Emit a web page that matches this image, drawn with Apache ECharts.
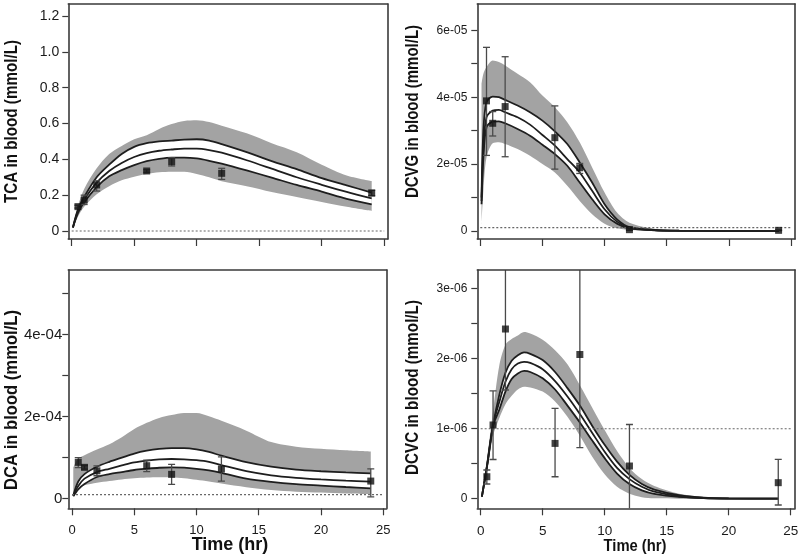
<!DOCTYPE html>
<html>
<head>
<meta charset="utf-8">
<script src="https://cdn.jsdelivr.net/npm/echarts@6/dist/echarts.min.js"></script>
<style>
html,body{margin:0;padding:0;background:#fff;}
#chart{width:800px;height:558px;}
</style>
</head>
<body>
<div id="chart"></div>
<script>
// ---------- DATA ----------
const obsTimes = [0.5, 1, 2, 6, 8, 12, 24];
const xTicks = [0, 5, 10, 15, 20, 25];

// TCA (mmol/L)
const tcaT = [0.1, 0.5, 1, 2, 3, 4, 5, 6, 7, 8, 9, 10, 11, 12, 14, 16, 18, 20, 22, 24];
const tcaUpper = [0.02, 0.12, 0.19, 0.30, 0.37, 0.43, 0.47, 0.49, 0.50, 0.505, 0.51, 0.512, 0.505, 0.485, 0.44, 0.39, 0.345, 0.295, 0.255, 0.214];
const tcaMid = [0.02, 0.11, 0.175, 0.27, 0.335, 0.38, 0.413, 0.435, 0.448, 0.455, 0.46, 0.46, 0.452, 0.437, 0.395, 0.348, 0.30, 0.258, 0.218, 0.182];
const tcaLow = [0.02, 0.10, 0.16, 0.245, 0.305, 0.34, 0.368, 0.39, 0.403, 0.41, 0.41, 0.405, 0.392, 0.376, 0.338, 0.298, 0.257, 0.22, 0.18, 0.149];
const tcaBandHi = [0.025, 0.14, 0.235, 0.35, 0.43, 0.475, 0.512, 0.535, 0.57, 0.597, 0.614, 0.618, 0.608, 0.588, 0.545, 0.49, 0.44, 0.37, 0.31, 0.279];
const tcaBandLo = [0.015, 0.08, 0.135, 0.205, 0.25, 0.283, 0.303, 0.318, 0.328, 0.331, 0.331, 0.318, 0.30, 0.278, 0.25, 0.218, 0.19, 0.162, 0.135, 0.112];
const tcaObs = [0.136, 0.173, 0.257, 0.335, 0.387, 0.322, 0.212];
const tcaObsLo = [0.128, 0.148, 0.223, 0.328, 0.363, 0.288, 0.197];
const tcaObsHi = [0.144, 0.200, 0.280, 0.342, 0.409, 0.350, 0.227];
const tcaRef = 0;
const tcaYTicks = [0, 0.2, 0.4, 0.6, 0.8, 1.0, 1.2];
const tcaYLabels = [0, 0.2, 0.4, 0.6, 0.8, 1.0, 1.2];

// DCVG (mmol/L)
const dcvgT = [0.1, 0.25, 0.5, 1, 1.5, 2, 3, 4, 5, 6, 7, 8, 9, 10, 11, 12, 14, 16, 20, 24];
const dcvgUpper = [10e-6, 30e-6, 38.5e-6, 40.2e-6, 40e-6, 39.2e-6, 37.5e-6, 35.5e-6, 33e-6, 29.8e-6, 26e-6, 20.5e-6, 14.5e-6, 8e-6, 3.5e-6, 1.2e-6, 0.3e-6, 0.1e-6, 0, 0];
const dcvgMid = [9e-6, 25e-6, 34e-6, 36e-6, 36.2e-6, 35.5e-6, 34e-6, 31.8e-6, 28.7e-6, 25.5e-6, 21.5e-6, 17.5e-6, 12e-6, 6.5e-6, 2.8e-6, 1e-6, 0.25e-6, 0.08e-6, 0, 0];
const dcvgLow = [8e-6, 22e-6, 31e-6, 32.7e-6, 32.8e-6, 32.2e-6, 30.5e-6, 28.5e-6, 25.8e-6, 23e-6, 19.5e-6, 14.5e-6, 9.5e-6, 5e-6, 2.2e-6, 0.8e-6, 0.2e-6, 0.05e-6, 0, 0];
const dcvgBandHi = [44e-6, 47e-6, 49e-6, 51e-6, 50.5e-6, 49.5e-6, 47e-6, 44.5e-6, 40.5e-6, 37e-6, 32.5e-6, 26.5e-6, 19e-6, 11.5e-6, 5.5e-6, 2.5e-6, 0.7e-6, 0.25e-6, 0.03e-6, 0];
const dcvgBandLo = [2e-6, 12e-6, 22e-6, 26.2e-6, 26.5e-6, 26e-6, 24.5e-6, 22.5e-6, 20e-6, 17.5e-6, 13.5e-6, 9e-6, 5e-6, 2.2e-6, 0.8e-6, 0.3e-6, 0.05e-6, 0, 0, 0];
const dcvgObs = [38.9e-6, 32.2e-6, 37.2e-6, 27.9e-6, 18.9e-6, 0.4e-6, 0.2e-6];
const dcvgObsLo = [22.6e-6, 28.4e-6, 22.2e-6, 18.5e-6, 17.2e-6, 0.2e-6, 0.1e-6];
const dcvgObsHi = [54.9e-6, 35.7e-6, 52.1e-6, 37.4e-6, 20.2e-6, 0.6e-6, 0.3e-6];
const dcvgRef = 1e-6;
const dcvgYTicks = [0, 1e-5, 2e-5, 3e-5, 4e-5, 5e-5, 6e-5];
const dcvgYLabels = [0, 2e-5, 4e-5, 6e-5];

// DCA (mmol/L)
const dcaT = [0.1, 0.5, 1, 2, 3, 4, 5, 6, 7, 8, 9, 10, 11, 12, 14, 16, 18, 20, 22, 24];
const dcaUpper = [8e-6, 42e-6, 60e-6, 78e-6, 90e-6, 100e-6, 110e-6, 117e-6, 121.5e-6, 123.6e-6, 123.6e-6, 120.5e-6, 114e-6, 105e-6, 89e-6, 78e-6, 71e-6, 67e-6, 64e-6, 62e-6];
const dcaMid = [7e-6, 31e-6, 49e-6, 65e-6, 73e-6, 81e-6, 88.5e-6, 93e-6, 96e-6, 96.8e-6, 96e-6, 94e-6, 90e-6, 82e-6, 67e-6, 57e-6, 51e-6, 47e-6, 44e-6, 41.5e-6];
const dcaLow = [6e-6, 23e-6, 36e-6, 53e-6, 60e-6, 65e-6, 70e-6, 73e-6, 75.5e-6, 76.6e-6, 75.8e-6, 73e-6, 69e-6, 63e-6, 49e-6, 41e-6, 35.5e-6, 32e-6, 28.5e-6, 25.3e-6];
const dcaBandHi = [76e-6, 98e-6, 106e-6, 120e-6, 133e-6, 150e-6, 170e-6, 185e-6, 197e-6, 204e-6, 209e-6, 209e-6, 201e-6, 190e-6, 166e-6, 138e-6, 127e-6, 122e-6, 118e-6, 115e-6];
const dcaBandLo = [10e-6, 28e-6, 33e-6, 39e-6, 43e-6, 47e-6, 49.7e-6, 51.5e-6, 52.2e-6, 52e-6, 50e-6, 46e-6, 42e-6, 37e-6, 28e-6, 21e-6, 17e-6, 15e-6, 13e-6, 11.4e-6];
const dcaObs = [88.7e-6, 76.5e-6, 68e-6, 80.5e-6, 59.4e-6, 72.4e-6, 43e-6];
const dcaObsLo = [76e-6, 72e-6, 56e-6, 66e-6, 35e-6, 43e-6, 4.6e-6];
const dcaObsHi = [100e-6, 81e-6, 80e-6, 94e-6, 83.8e-6, 102e-6, 72.8e-6];
const dcaRef = 1e-5;
const dcaYTicks = [0, 1e-4, 2e-4, 3e-4, 4e-4, 5e-4];
const dcaYLabels = [0, 2e-4, 4e-4];

// DCVC (mmol/L)
const dcvcT = [0.1, 0.5, 1, 1.5, 2, 2.5, 3, 3.5, 4, 5, 6, 7, 8, 9, 10, 11, 12, 13, 14, 16, 18, 20, 24];
const dcvcUpper = [0.03e-6, 0.44e-6, 1.05e-6, 1.48e-6, 1.80e-6, 1.97e-6, 2.05e-6, 2.09e-6, 2.07e-6, 1.98e-6, 1.81e-6, 1.58e-6, 1.33e-6, 1.04e-6, 0.77e-6, 0.53e-6, 0.34e-6, 0.21e-6, 0.13e-6, 0.05e-6, 0.015e-6, 0.005e-6, 0];
const dcvcMid = [0.03e-6, 0.45e-6, 1.05e-6, 1.38e-6, 1.67e-6, 1.85e-6, 1.93e-6, 1.955e-6, 1.94e-6, 1.85e-6, 1.68e-6, 1.46e-6, 1.21e-6, 0.94e-6, 0.67e-6, 0.44e-6, 0.28e-6, 0.17e-6, 0.10e-6, 0.035e-6, 0.01e-6, 0.003e-6, 0];
const dcvcLow = [0.03e-6, 0.46e-6, 1.04e-6, 1.27e-6, 1.53e-6, 1.71e-6, 1.79e-6, 1.825e-6, 1.81e-6, 1.72e-6, 1.56e-6, 1.33e-6, 1.09e-6, 0.83e-6, 0.58e-6, 0.36e-6, 0.21e-6, 0.12e-6, 0.07e-6, 0.025e-6, 0.008e-6, 0.002e-6, 0];
const dcvcBandHi = [0.05e-6, 0.55e-6, 1.25e-6, 1.9e-6, 2.2e-6, 2.28e-6, 2.33e-6, 2.38e-6, 2.36e-6, 2.27e-6, 2.12e-6, 1.92e-6, 1.62e-6, 1.30e-6, 0.98e-6, 0.68e-6, 0.44e-6, 0.28e-6, 0.18e-6, 0.07e-6, 0.025e-6, 0.008e-6, 0];
const dcvcBandLo = [0, 0.38e-6, 0.9e-6, 1.15e-6, 1.35e-6, 1.47e-6, 1.56e-6, 1.6e-6, 1.59e-6, 1.53e-6, 1.39e-6, 1.17e-6, 0.9e-6, 0.6e-6, 0.35e-6, 0.17e-6, 0.07e-6, 0.02e-6, 0.005e-6, 0, 0, 0, 0];
const dcvcObs = [0.314e-6, 1.053e-6, 2.424e-6, 0.79e-6, 2.06e-6, 0.467e-6, 0.229e-6];
const dcvcObsLo = [0.21e-6, 0.56e-6, 1.553e-6, 0.314e-6, 0.729e-6, -0.3e-6, -0.09e-6];
const dcvcObsHi = [0.41e-6, 1.54e-6, 3.6e-6, 1.29e-6, 3.6e-6, 1.06e-6, 0.563e-6];
const dcvcRef = 1e-6;
const dcvcYTicks = [0, 0.5e-6, 1e-6, 1.5e-6, 2e-6, 2.5e-6, 3e-6];
const dcvcYLabels = [0, 1e-6, 2e-6, 3e-6];

// ---------- BUILD ----------
const REG = '"Liberation Sans", Arial, sans-serif';
const GRAY = '#a3a3a3';
const LINE = '#1e1e1e';
const FRAME = '#3a3a3a';

function sci(v) {
  if (v === 0) return '0';
  return v.toExponential(0).replace(/e([+-])(\d+)$/, function (m, s, d) {
    return 'e' + s + (d.length < 2 ? '0' + d : d);
  });
}
function dec(v) { return v === 0 ? '0' : v.toFixed(1); }

const panels = [
  { t: tcaT, up: tcaUpper, mid: tcaMid, low: tcaLow, bHi: tcaBandHi, bLo: tcaBandLo,
    obs: tcaObs, oLo: tcaObsLo, oHi: tcaObsHi, ref: tcaRef, yTicks: tcaYTicks, yLabels: tcaYLabels, fmt: dec,
    grid: { left: 68.3, top: 4, width: 319.4, height: 235 }, xr: [-0.27, 25.28], yr: [-0.0446, 1.267],
    yFont: { fontFamily: REG, fontSize: 14 }, yMargin: 9, showX: false },
  { t: dcvgT, up: dcvgUpper, mid: dcvgMid, low: dcvgLow, bHi: dcvgBandHi, bLo: dcvgBandLo,
    obs: dcvgObs, oLo: dcvgObsLo, oHi: dcvgObsHi, ref: dcvgRef, yTicks: dcvgYTicks, yLabels: dcvgYLabels, fmt: sci,
    grid: { left: 477.3, top: 4, width: 317.7, height: 235 }, xr: [-0.24, 25.32], yr: [-2.39e-6, 67.86e-6],
    yFont: { fontFamily: REG, fontSize: 12 }, yMargin: 10, showX: false },
  { t: dcaT, up: dcaUpper, mid: dcaMid, low: dcaLow, bHi: dcaBandHi, bLo: dcaBandLo,
    obs: dcaObs, oLo: dcaObsLo, oHi: dcaObsHi, ref: dcaRef, yTicks: dcaYTicks, yLabels: dcaYLabels, fmt: sci,
    grid: { left: 68.3, top: 270, width: 318.4, height: 238.3 }, xr: [-0.30, 25.28], yr: [-23.4e-6, 557.8e-6],
    yFont: { fontFamily: REG, fontSize: 15 }, yMargin: 6, showX: true, xFont: { fontFamily: REG, fontSize: 13 } },
  { t: dcvcT, up: dcvcUpper, mid: dcvcMid, low: dcvcLow, bHi: dcvcBandHi, bLo: dcvcBandLo,
    obs: dcvcObs, oLo: dcvcObsLo, oHi: dcvcObsHi, ref: dcvcRef, yTicks: dcvcYTicks, yLabels: dcvcYLabels, fmt: sci,
    grid: { left: 477.3, top: 270, width: 317.7, height: 238.3 }, xr: [-0.27, 25.35], yr: [-0.137e-6, 3.267e-6],
    yFont: { fontFamily: REG, fontSize: 12 }, yMargin: 10, showX: true, xFont: { fontFamily: REG, fontSize: 13.5 } }
];

const grids = [], xAxes = [], yAxes = [], series = [];
const frameLine = { show: true, onZero: false, lineStyle: { color: FRAME, width: 1.6 } };
panels.forEach(function (p, i) {
  grids.push(Object.assign({ show: false, containLabel: false, outerBoundsMode: 'none' }, p.grid));
  xAxes.push({
    type: 'value', gridIndex: i, position: 'bottom', min: p.xr[0], max: p.xr[1], z: 10,
    axisLine: frameLine,
    axisTick: { show: true, inside: false, length: 7, customValues: xTicks, lineStyle: { color: FRAME, width: 1.2 } },
    axisLabel: Object.assign({ show: p.showX, customValues: xTicks, margin: 16, color: '#1a1a1a' }, p.xFont || {}),
    splitLine: { show: false }
  });
  xAxes.push({
    type: 'value', gridIndex: i, position: 'top', min: p.xr[0], max: p.xr[1], z: 10,
    axisLine: frameLine, axisTick: { show: false }, axisLabel: { show: false }, splitLine: { show: false }
  });
  yAxes.push({
    type: 'value', gridIndex: i, position: 'left', min: p.yr[0], max: p.yr[1], z: 10,
    axisLine: frameLine,
    axisTick: { show: true, inside: false, length: 6, customValues: p.yTicks, lineStyle: { color: FRAME, width: 1.2 } },
    axisLabel: Object.assign({ show: true, customValues: p.yLabels, margin: p.yMargin, color: '#1a1a1a', formatter: p.fmt }, p.yFont),
    splitLine: { show: false }
  });
  yAxes.push({
    type: 'value', gridIndex: i, position: 'right', min: p.yr[0], max: p.yr[1], z: 10,
    axisLine: frameLine, axisTick: { show: false }, axisLabel: { show: false }, splitLine: { show: false }
  });
  const xi = 2 * i, yi = 2 * i;
  const pts = function (arr) { return p.t.map(function (x, k) { return [x, arr[k]]; }); };
  // value-first rows so that stacking happens on the y dimension
  const vrows = function (arr) { return p.t.map(function (x, k) { return [arr[k], x]; }); };
  const grows = function (hi, lo) { return p.t.map(function (x, k) { return [hi[k] - lo[k], x]; }); };
  const base = { type: 'line', xAxisIndex: xi, yAxisIndex: yi, showSymbol: false, symbol: 'none', smooth: 0.3, silent: true };
  const stk = Object.assign({}, base, { encode: { x: 1, y: 0 }, stackStrategy: 'all', lineStyle: { width: 0, opacity: 0 } });
  // gray band between band-low and band-high
  series.push(Object.assign({}, stk, { stack: 'band' + i, data: vrows(p.bLo), z: 1 }));
  series.push(Object.assign({}, stk, { stack: 'band' + i, data: grows(p.bHi, p.bLo), areaStyle: { color: GRAY, opacity: 1 }, z: 1 }));
  // white band between the lower and upper curve
  series.push(Object.assign({}, stk, { stack: 'inner' + i, data: vrows(p.low), z: 2 }));
  series.push(Object.assign({}, stk, { stack: 'inner' + i, data: grows(p.up, p.low), areaStyle: { color: '#ffffff', opacity: 1 }, z: 2 }));
  // three curves
  [p.up, p.mid, p.low].forEach(function (arr) {
    series.push(Object.assign({}, base, { data: pts(arr), lineStyle: { color: LINE, width: 1.8 }, z: 3 }));
  });
  // dotted reference line
  series.push({ type: 'line', xAxisIndex: xi, yAxisIndex: yi, showSymbol: false, symbol: 'none', silent: true, z: 4,
    data: [[0, p.ref], [25, p.ref]], lineStyle: { color: '#666', width: 1.1, type: [2, 2] } });
  // error bars
  series.push({
    type: 'custom', xAxisIndex: xi, yAxisIndex: yi, clip: true, silent: true, z: 5,
    data: obsTimes.map(function (x, k) { return [x, p.oLo[k], p.oHi[k]]; }),
    encode: { x: 0, y: [1, 2] },
    renderItem: function (params, api) {
      const x = api.value(0);
      const top = api.coord([x, api.value(2)]);
      const bot = api.coord([x, api.value(1)]);
      const w = 3.5;
      const st = { stroke: '#4a4a4a', lineWidth: 1.3 };
      return { type: 'group', children: [
        { type: 'line', shape: { x1: top[0], y1: top[1], x2: bot[0], y2: bot[1] }, style: st },
        { type: 'line', shape: { x1: top[0] - w, y1: top[1], x2: top[0] + w, y2: top[1] }, style: st },
        { type: 'line', shape: { x1: bot[0] - w, y1: bot[1], x2: bot[0] + w, y2: bot[1] }, style: st }
      ] };
    }
  });
  // observations
  series.push({ type: 'scatter', xAxisIndex: xi, yAxisIndex: yi, symbol: 'rect', symbolSize: 7, silent: true, z: 6,
    itemStyle: { color: '#111' }, data: obsTimes.map(function (x, k) { return [x, p.obs[k]]; }) });
});

function vtext(txt, x, y, size, sx) {
  return { type: 'text', x: x, y: y, rotation: Math.PI / 2, scaleX: sx, silent: true,
    style: { text: txt, fill: '#111', font: 'bold ' + size + 'px ' + REG, align: 'center', verticalAlign: 'middle', textAlign: 'center', textVerticalAlign: 'middle' } };
}
function htext(txt, x, y, size, sx) {
  return { type: 'text', x: x, y: y, scaleX: sx, silent: true,
    style: { text: txt, fill: '#111', font: 'bold ' + size + 'px ' + REG, align: 'center', verticalAlign: 'middle', textAlign: 'center', textVerticalAlign: 'middle' } };
}

const chart = echarts.init(document.getElementById('chart'), null, { renderer: 'canvas' });
chart.setOption({
  animation: false,
  backgroundColor: '#ffffff',
  grid: grids,
  xAxis: xAxes,
  yAxis: yAxes,
  series: series,
  graphic: [
    vtext('TCA in blood (mmol/L)', 12.5, 121.5, 18, 0.845),
    vtext('DCVG in blood (mmol/L)', 413, 111.5, 18, 0.832),
    vtext('DCA in blood (mmol/L)', 11.7, 400, 18, 0.923),
    vtext('DCVC in blood (mmol/L)', 413, 387.5, 18, 0.845),
    htext('Time (hr)', 230, 545, 18, 1),
    htext('Time (hr)', 635, 546, 17, 0.87)
  ]
});
</script>
</body>
</html>
